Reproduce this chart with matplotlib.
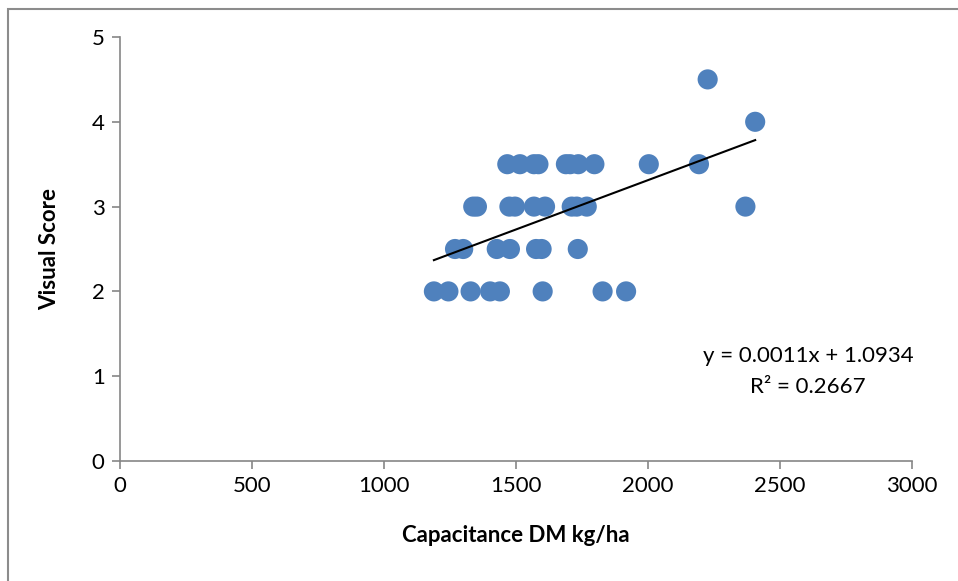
import matplotlib.pyplot as plt
import numpy as np

# capacitance (kg DM/ha) and visual score
score_2 = [1189, 1244, 1328, 1402, 1439, 1601, 1828, 1917]
score_25 = [1269, 1300, 1427, 1477, 1576, 1597, 1734]
score_3 = [1338, 1352, 1475, 1496, 1568, 1610, 1711, 1730, 1768, 2369]
score_35 = [1467, 1515, 1568, 1585, 1689, 1705, 1736, 1797, 2003, 2193]
score_4 = [2406]
score_45 = [2226]

capacitance = score_2 + score_25 + score_3 + score_35 + score_4 + score_45
visual = ([2.0] * len(score_2) + [2.5] * len(score_25) + [3.0] * len(score_3)
          + [3.5] * len(score_35) + [4.0] * len(score_4) + [4.5] * len(score_45))

x_ticks = [0, 500, 1000, 1500, 2000, 2500, 3000]
y_ticks = [0, 1, 2, 3, 4, 5]

plt.rcParams['font.family'] = ['Lato', 'DejaVu Sans']

fig = plt.figure(figsize=(9.58, 5.81), dpi=100)
ax = fig.add_axes([120 / 958, 1 - 461 / 581, 792 / 958, 424 / 581])

# chart area border (only left and top visible in the crop)
fig.patches.append(plt.Rectangle((8 / 958, -0.1), 1.2, 1 - 9 / 581 + 0.1,
                                 transform=fig.transFigure, fill=False,
                                 edgecolor='#8c8c8c', linewidth=1.5))

x = np.array(capacitance, dtype=float)
y = np.array(visual)
ax.scatter(x, y, s=210, color='#4F81BD', edgecolors='none', zorder=3)

slope, intercept = np.polyfit(x, y, 1)
xs = np.array([x.min(), x.max()])
ax.plot(xs, slope * xs + intercept, color='black', linewidth=1.5, zorder=4)

ax.text(2606, 1.24, 'y = 0.0011x + 1.0934', ha='center', va='center', fontsize=16)
ax.text(2606, 0.87, 'R² = 0.2667', ha='center', va='center', fontsize=16)

ax.set_xlim(0, 3000)
ax.set_ylim(0, 5)
ax.set_xticks(x_ticks)
ax.set_yticks(y_ticks)
ax.tick_params(labelsize=16, length=6, color='#868686', width=1.2, pad=5)
for side in ['top', 'right']:
    ax.spines[side].set_visible(False)
for side in ['left', 'bottom']:
    ax.spines[side].set_color('#868686')
    ax.spines[side].set_linewidth(1.2)

ax.set_xlabel('Capacitance DM kg/ha', fontsize=16, fontweight='bold', va='center')
ax.set_ylabel('Visual Score', fontsize=16, fontweight='bold', va='center')
ax.xaxis.set_label_coords(0.5, (461 - 535) / 424)
ax.yaxis.set_label_coords((50 - 120) / 792, 0.5)

fig.savefig('out.png', dpi=100)
